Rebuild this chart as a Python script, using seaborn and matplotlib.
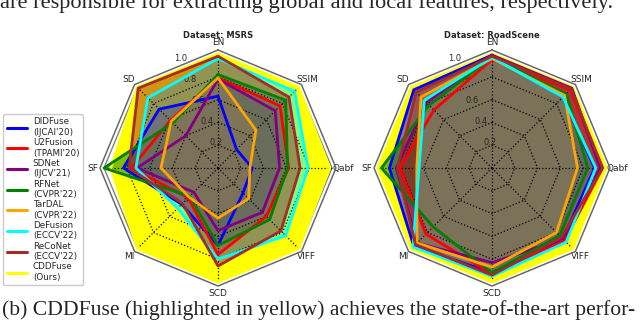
import numpy as np
import pandas as pd
import matplotlib
matplotlib.use('Agg')
import matplotlib.pyplot as plt
from matplotlib.lines import Line2D
import seaborn as sns

# metric axes, clockwise from the top
metrics = ['EN', 'SSIM', 'Qabf', 'VIFF', 'SCD', 'MI', 'SF', 'SD']

methods = ['DIDFuse', 'U2Fusion', 'SDNet', 'RFNet', 'TarDAL', 'DeFusion', 'ReCoNet', 'CDDFuse']
venues = ["(IJCAI'20)", "(TPAMI'20)", "(IJCV'21)", "(CVPR'22)", "(CVPR'22)", "(ECCV'22)", "(ECCV'22)", '(Ours)']
colors = ['blue', 'red', 'purple', 'green', 'orange', 'cyan', 'brown', 'yellow']

# normalised scores (EN, SSIM, Qabf, VIFF, SCD, MI, SF, SD)
msrs_didfuse = [0.63, 0.23, 0.30, 0.31, 0.68, 0.45, 0.83, 0.73]
msrs_u2fusion = [0.79, 0.77, 0.62, 0.60, 0.76, 0.37, 0.76, 0.59]
msrs_sdnet = [0.78, 0.71, 0.54, 0.55, 0.55, 0.30, 0.71, 0.40]
msrs_rfnet = [0.82, 0.84, 0.61, 0.64, 0.68, 0.35, 1.00, 0.56]
msrs_tardal = [0.79, 0.47, 0.28, 0.38, 0.44, 0.36, 0.50, 0.58]
msrs_defusion = [0.96, 0.95, 0.79, 0.84, 0.80, 0.50, 0.72, 0.87]
msrs_reconet = [0.98, 0.88, 0.72, 0.78, 0.86, 0.44, 0.78, 0.99]
msrs_cddfuse = [1.00, 1.00, 0.98, 1.00, 1.00, 1.00, 0.94, 1.00]

road_didfuse = [0.99, 0.88, 0.90, 0.88, 0.92, 0.97, 0.90, 0.97]
road_u2fusion = [0.95, 0.97, 0.97, 0.90, 0.93, 0.82, 0.81, 0.72]
road_sdnet = [0.99, 0.99, 0.95, 0.88, 0.83, 0.93, 0.84, 0.81]
road_rfnet = [0.97, 0.92, 0.84, 0.84, 0.92, 0.73, 0.97, 0.78]
road_tardal = [0.96, 0.90, 0.75, 0.80, 0.87, 0.93, 0.66, 0.88]
road_defusion = [0.97, 0.88, 0.91, 0.92, 0.95, 0.98, 0.64, 0.84]
road_reconet = [0.98, 0.98, 0.97, 0.86, 0.94, 0.95, 0.83, 0.94]
road_cddfuse = [1.00, 1.00, 1.00, 1.00, 1.00, 1.00, 1.00, 1.00]

msrs = [msrs_didfuse, msrs_u2fusion, msrs_sdnet, msrs_rfnet,
        msrs_tardal, msrs_defusion, msrs_reconet, msrs_cddfuse]
road = [road_didfuse, road_u2fusion, road_sdnet, road_rfnet,
        road_tardal, road_defusion, road_reconet, road_cddfuse]

sns.set_style('white')
plt.rcParams['font.family'] = ['DejaVu Sans']

angles = np.linspace(0, 2 * np.pi, len(metrics), endpoint=False)
ring = np.append(angles, angles[0])
rmax = 1.035
palette = dict(zip(methods, colors))


def long_table(scores):
    rows = []
    for m, vals in zip(methods, scores):
        for a, v in zip(ring, vals + vals[:1]):
            rows.append({'theta': a, 'value': v, 'method': m})
    return pd.DataFrame(rows)


def radar(ax, scores):
    ax.set_theta_offset(np.pi / 2)
    ax.set_theta_direction(-1)
    ax.spines['polar'].set_visible(False)

    # octagon grid, above the fills but under the lines
    for r in [0.2, 0.4, 0.6, 0.8]:
        ax.plot(ring, [r] * len(ring), color='black', ls=':', lw=0.9, zorder=1.5)
    for a in angles:
        ax.plot([a, a], [0, 1.0], color='black', ls=':', lw=0.9, zorder=1.5)
    ax.plot(ring, [1.0] * len(ring), color='gray', lw=1.0, zorder=0.8)
    ax.plot(ring, [rmax] * len(ring), color='dimgray', lw=1.1, zorder=0.8, clip_on=False)

    df = long_table(scores)
    # yellow (ours) first, underneath the rest
    order = [methods[-1]] + methods[:-1]
    for m in order:
        sub = df[df['method'] == m]
        ax.fill(sub['theta'], sub['value'], color=palette[m],
                alpha=1.0 if m == 'CDDFuse' else 0.5, lw=0, zorder=1)
    sns.lineplot(data=df, x='theta', y='value', hue='method', hue_order=order,
                 palette=palette, sort=False, estimator=None, lw=2,
                 legend=False, ax=ax)

    ax.set_xlabel('')
    ax.set_ylabel('')
    ax.set_xticks(angles)
    ax.set_xticklabels(metrics, fontsize=6.5)
    ax.tick_params(axis='x', pad=-1.5, length=0)
    ax.set_rgrids([0.2, 0.4, 0.6, 0.8, 1.0], ['0.2', '0.4', '0.6', '0.8', '1.0'],
                  fontsize=6)
    ax.set_rlabel_position(-22.5)
    ax.grid(False)
    ax.yaxis.set_zorder(1.6)
    ax.set_ylim(0, rmax)


fig = plt.figure(figsize=(6.4, 3.32), dpi=100)
ax1 = fig.add_axes([100 / 640, 46 / 332, 236 / 640, 236 / 332], projection='polar')
ax2 = fig.add_axes([374 / 640, 46 / 332, 236 / 640, 236 / 332], projection='polar')
radar(ax1, msrs)
radar(ax2, road)

fig.text(218 / 640, 1 - 35 / 332, 'Dataset: MSRS', ha='center', va='center',
         fontsize=6, fontweight='bold')
fig.text(492 / 640, 1 - 35 / 332, 'Dataset: RoadScene', ha='center', va='center',
         fontsize=6, fontweight='bold')

handles = [Line2D([0], [0], color=c, lw=2.2) for c in colors]
labels = [f'{m}\n{v}' for m, v in zip(methods, venues)]
fig.legend(handles, labels, loc='upper left', bbox_to_anchor=(3 / 640, 1 - 114 / 332),
           fontsize=6.3, handlelength=2.4, labelspacing=0.15, borderpad=0.4,
           borderaxespad=0, handletextpad=0.6, framealpha=1, edgecolor='#cccccc')

# surrounding paper text
fig.text(0, 1 - 8 / 332, 'are responsible for extracting global and local features, respectively.',
         family='Liberation Serif', fontsize=16.1, va='baseline', ha='left')
fig.text(2 / 640, 17 / 332,
         '(b) CDDFuse (highlighted in yellow) achieves the state-of-the-art perfor-',
         family='Liberation Serif', fontsize=15.6, va='baseline', ha='left')

fig.savefig('out.png', dpi=100)
